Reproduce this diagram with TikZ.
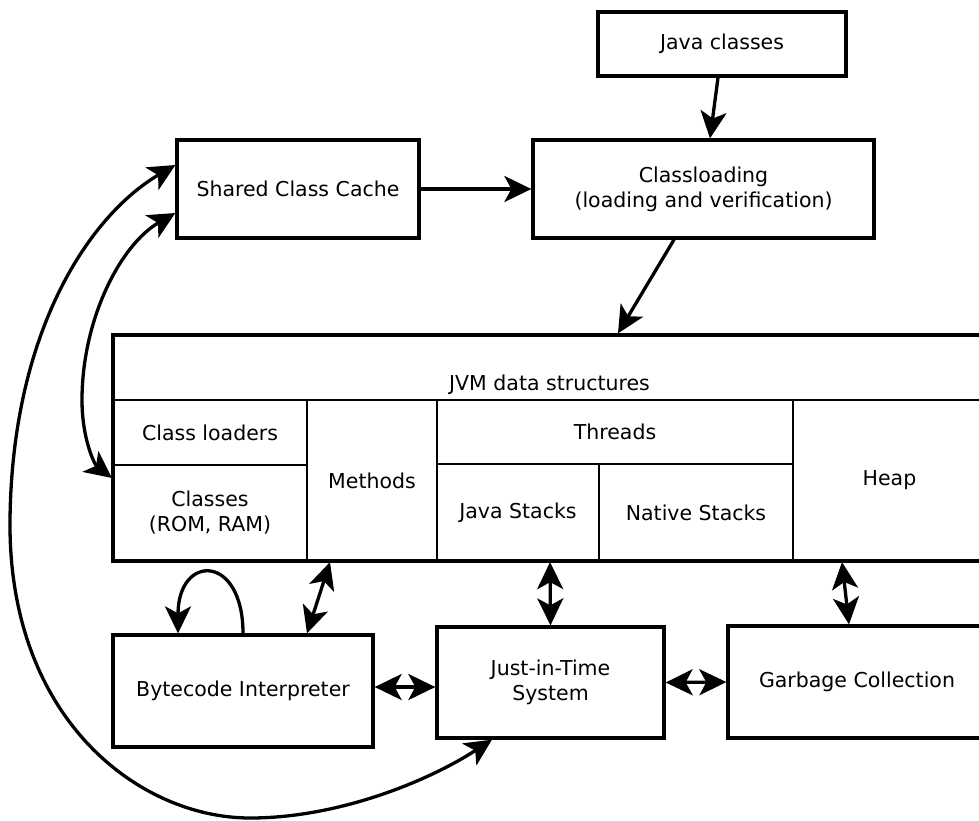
\documentclass[tikz,border=0pt]{standalone}
\usepackage{fontspec}
\setmainfont{DejaVu Sans}
\usetikzlibrary{arrows.meta}
\begin{document}
\begin{tikzpicture}[x=1pt,y=-1pt,
  txt/.style={font=\fontsize{20.5}{25}\selectfont, align=center, inner sep=0pt},
  box/.style={txt, draw, line width=3.3pt, outer sep=1.65pt},
  cell/.style={txt, draw, line width=2.2pt, outer sep=1.1pt},
  con/.style={line width=3.3pt, -{Stealth[length=27pt,width=26pt,inset=7pt]}},
  dcon/.style={line width=3.3pt, {Stealth[length=27pt,width=26pt,inset=7pt]}-{Stealth[length=27pt,width=26pt,inset=7pt]}}
]
\useasboundingbox (0,0) rectangle (979,820);
\fill[white] (0,0) rectangle (979,820);
\clip (0,0) rectangle (979,820);

% top boxes
\node[box, minimum width=248pt, minimum height=64pt] (java) at (722,44) {Java classes};
\node[box, minimum width=341pt, minimum height=98pt] (cl) at (703.5,189) {Classloading\\(loading and verification)};
\node[box, minimum width=242pt, minimum height=98pt] (shared) at (298,189) {Shared Class Cache};

% JVM data structures
\node[cell, minimum width=194pt, minimum height=65pt] (loaders) at (210,432.5) {Class loaders};
\node[cell, minimum width=194pt, minimum height=96pt] (classes) at (210,513) {Classes\\(ROM, RAM)};
\node[cell, minimum width=130pt, minimum height=161pt] (methods) at (372,480.5) {Methods};
\node[cell, minimum width=356pt, minimum height=64pt] (threads) at (615,432) {Threads};
\node[cell, minimum width=162pt, minimum height=97pt] (jstacks) at (518,512.5) {Java Stacks};
\node[cell, minimum width=194pt, minimum height=97pt] (nstacks) at (696,512.5) {Native Stacks};
\node[cell, minimum width=193pt, minimum height=161pt] (heap) at (889.5,480.5) {Heap};
\node[box, minimum width=873pt, minimum height=226pt] (jvm) at (549.5,448) {};
\node[txt, anchor=base] (jvmlabel) at (549.5,390) {JVM data structures};

% bottom boxes
\node[box, minimum width=260pt, minimum height=112pt] (bc) at (243,691) {Bytecode Interpreter};
\node[box, minimum width=227pt, minimum height=111pt] (jit) at (550.5,682.5) {Just-in-Time\\System};
\node[box, minimum width=258pt, minimum height=112pt] (gc) at (857,682) {Garbage Collection};

% connectors
\draw[con] ([xshift=-4pt]java.south) -- ([xshift=6.5pt]cl.north);
\draw[con] (shared.east) -- (cl.west);
\draw[con] ([xshift=-29.5pt]cl.south) -- ([xshift=68.5pt]jvm.north);

\draw[dcon] ([yshift=-24pt]shared.west) .. controls (120,245) and (82,320) .. (82,400)
  .. controls (82,440) and (95,465) .. ([yshift=35pt]classes.west);
\draw[dcon] ([yshift=24pt]shared.west) .. controls (90,215) and (12,330) .. (10,520)
  .. controls (8,720) and (140,818) .. (250,818)
  .. controls (340,818) and (430,780) .. ([xshift=-58.5pt]jit.south);

\draw[con] (bc.north) .. controls +(0,-80) and +(0,-80) .. ([xshift=-65pt]bc.north);
\draw[dcon] ([xshift=-42pt]methods.south) -- ([xshift=64pt]bc.north);
\draw[dcon] ([xshift=32pt]jstacks.south) -- (jit.north);
\draw[dcon] ([xshift=-47.5pt]heap.south) -- ([xshift=-8pt]gc.north);
\draw[dcon] ([yshift=4pt]bc.east) -- ([yshift=-4.5pt]jit.west);
\draw[dcon] (jit.east) -- (gc.west);
\end{tikzpicture}
\end{document}
